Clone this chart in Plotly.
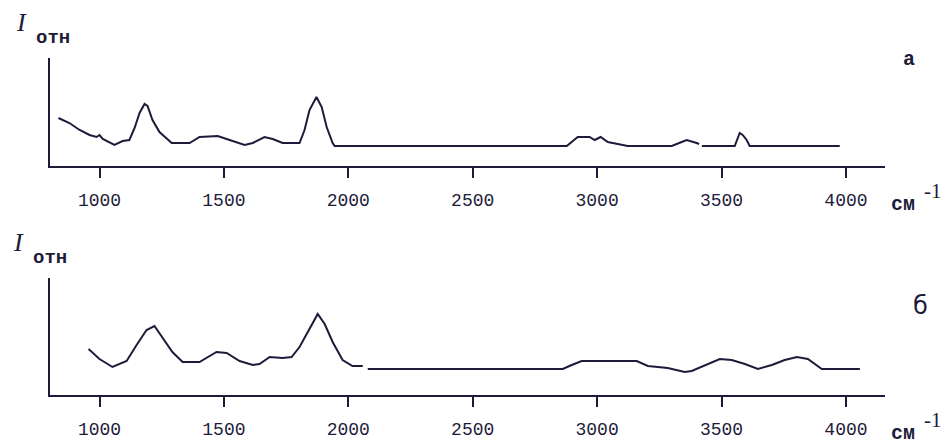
import plotly.graph_objects as go

# Spectrum "a"
wn_a = [835, 879, 920, 960, 988, 1000, 1013, 1060, 1093, 1120, 1141, 1161, 1181, 1193, 1213, 1241,
        1290, 1362, 1402, 1475, 1523, 1583, 1616, 1663, 1696, 1736, 1804, 1824, 1844, 1872, 1893,
        1913, 1937, 1945, 2878, 2922, 2970, 2990, 3014, 3043, 3123, 3300, 3340, 3360, 3400, 3410,
        None, 3421, 3553, 3573, 3585, 3601, 3613, 3975]
int_a = [48, 43, 36, 31, 29, 31, 27, 21, 25, 26, 38, 53, 62, 60, 46, 34,
         23, 23, 29, 30, 26, 21, 23, 29, 27, 23, 23, 36, 56, 69, 59,
         39, 23, 20, 20, 29, 29, 26, 29, 24, 20, 20, 24, 26, 23, 22,
         None, 20, 20, 33, 31, 26, 20, 20]

# Spectrum "б"
wn_b = [956, 1000, 1052, 1109, 1149, 1189, 1221, 1253, 1293, 1334, 1402, 1470, 1511, 1563, 1616,
        1643, 1684, 1736, 1772, 1804, 1844, 1877, 1905, 1937, 1977, 2017, 2058, None, 2078, 2862,
        2898, 2938, 3159, 3204, 3284, 3352, 3380, 3433, 3493, 3541, 3594, 3646, 3702, 3754, 3803,
        3847, 3903, 4056]
int_b = [46, 36, 28, 34, 50, 65, 69, 58, 43, 33, 33, 43, 42, 34, 30,
         31, 38, 37, 38, 48, 66, 81, 71, 53, 35, 29, 29, None, 26, 26,
         30, 34, 34, 29, 27, 23, 24, 30, 36, 35, 31, 26, 30, 35, 38,
         36, 26, 26]

tick_vals = [1000, 1500, 2000, 2500, 3000, 3500, 4000]
tick_text = ["1000", "1500", "2000", "2500", "3000", "3500", "4000"]

INK = "#1e1b3a"
OFF = 8                      # page body margin
W, H = 949 - OFF, 444 - OFF  # figure fits the window exactly


def px(x):
    return (x - OFF) / W


def py(y):
    return 1 - (y - OFF) / H


fig = go.Figure()
fig.add_trace(go.Scatter(x=wn_a, y=int_a, mode="lines", line=dict(color=INK, width=2),
                         xaxis="x", yaxis="y", showlegend=False, connectgaps=False))
fig.add_trace(go.Scatter(x=wn_b, y=int_b, mode="lines", line=dict(color=INK, width=2),
                         xaxis="x2", yaxis="y2", showlegend=False, connectgaps=False))

xr = [801, 4157]
xdom = [px(50), px(885)]


def xax(anchor):
    return dict(domain=xdom, range=xr, anchor=anchor, showgrid=False, zeroline=False,
                showline=True, linecolor=INK, linewidth=2,
                ticks="outside", ticklen=10, tickwidth=2, tickcolor=INK,
                tickvals=tick_vals, ticktext=tick_text, ticklabelstandoff=6,
                tickfont=dict(family="Liberation Mono", size=18, color=INK))


def yax(anchor, dom, top):
    return dict(domain=dom, range=[0, top], anchor=anchor, showgrid=False, zeroline=False,
                showline=True, linecolor=INK, linewidth=2, showticklabels=False, ticks="")


fig.update_layout(
    width=W, height=H, margin=dict(l=0, r=0, t=0, b=0),
    paper_bgcolor="white", plot_bgcolor="white",
    xaxis=xax("y"),
    yaxis=yax("x", [py(166), py(58)], 108),
    xaxis2=xax("y2"),
    yaxis2=yax("x2", [py(395), py(278)], 117),
)


def txt(x, y, s, family, size, bold=False):
    if bold:
        s = "<b>" + s + "</b>"
    fig.add_annotation(x=px(x), y=py(y), xref="paper", yref="paper", text=s,
                       showarrow=False, xanchor="center", yanchor="middle",
                       font=dict(family=family, size=size, color=INK))


# panel a
txt(21, 23, "<i>I</i>", "Liberation Serif", 26)
txt(53, 38, "отн", "Liberation Mono", 19, bold=True)
txt(909, 59, "a", "Liberation Mono", 20, bold=True)
txt(903, 204, "см", "Liberation Mono", 20, bold=True)
txt(933, 191, "-1", "Liberation Serif", 21)
# panel б
txt(18, 242, "<i>I</i>", "Liberation Serif", 26)
txt(50, 258, "отн", "Liberation Mono", 19, bold=True)
txt(920, 306, "б", "DejaVu Sans", 24)
txt(903, 433, "см", "Liberation Mono", 20, bold=True)
txt(933, 420, "-1", "Liberation Serif", 21)

fig.write_html("out.html")
